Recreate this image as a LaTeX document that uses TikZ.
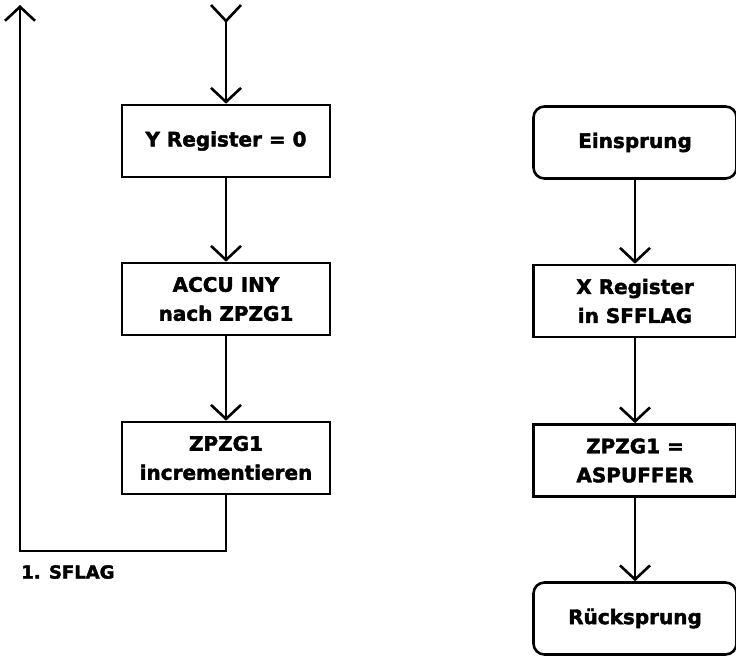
\documentclass[tikz,border=0pt]{standalone}
\usepackage{fontspec}
\setmainfont{DejaVu Sans}[BoldFeatures={FakeBold=2}]
\usetikzlibrary{arrows.meta}
\begin{document}
\begin{tikzpicture}[x=1pt,y=-1pt,
  line width=2.6pt,
  every node/.style={font=\bfseries\fontsize{20}{29}\selectfont, align=center, inner sep=0pt},
  procbox/.style={draw, rectangle, minimum width=208pt, minimum height=72pt},
  termbox/.style={draw, rectangle, rounded corners=11pt, minimum width=203pt, minimum height=72pt},
  rprocbox/.style={procbox, minimum width=203pt},
  flow/.style={-{Straight Barb[length=14pt,width=30pt,line width=2.6pt]}},
]
\useasboundingbox (0,0) rectangle (736,656);

% left chain
\node[procbox] (y0)  at (226,141) {Y Register = 0};
\node[procbox] (acc) at (226,299) {ACCU INY\\nach ZPZG1};
\node[procbox] (inc) at (226,458) {ZPZG1\\incrementieren};

\coordinate (entry) at (226,21);
\coordinate (corner) at (20,551);
\coordinate (exit) at (20,5);

% forked entry tail
\draw (entry) -- ++(-15,-16);
\draw (entry) -- ++(15,-16);
\draw[flow] (entry) -- (y0.north);
\draw[flow] (y0) -- (acc);
\draw[flow] (acc) -- (inc);
\draw[flow] (inc.south) |- (corner) -- (exit);

\node[anchor=west, font=\bfseries\fontsize{18}{22}\selectfont] (sflag) at (20,572) {1. SFLAG};

% right chain
\node[termbox]  (ein) at (635,142.5) {Einsprung};
\node[rprocbox] (xr)  at (635,301) {X Register\\in SFFLAG};
\node[rprocbox] (zp)  at (635,460.5) {ZPZG1 =\\ASPUFFER};
\node[termbox]  (rue) at (635,618.5) {Rücksprung};

\draw[flow] (ein) -- (xr);
\draw[flow] (xr) -- (zp);
\draw[flow] (zp) -- (rue);
\end{tikzpicture}
\end{document}
